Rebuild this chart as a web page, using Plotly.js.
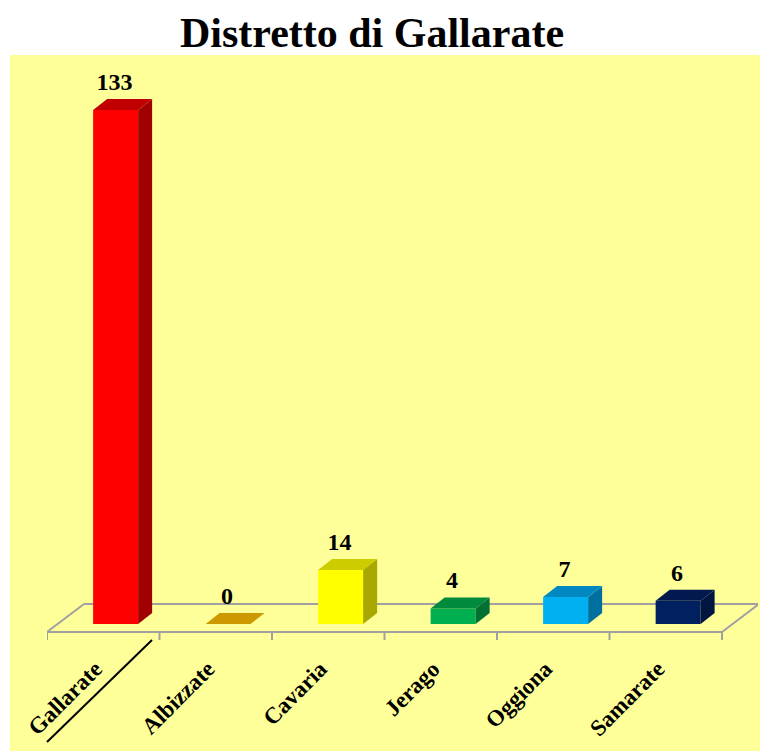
<!DOCTYPE html>
<html><head><meta charset="utf-8">
<script src="https://cdn.plot.ly/plotly-3.0.1.min.js"></script>
<style>html,body{margin:0;padding:0;background:#fff}</style>
</head><body><div id="chart" style="width:760px;height:751px"></div>
<script>
const categories = ['Gallarate','Albizzate','Cavaria','Jerago','Oggiona','Samarate'];
const values = [133, 0, 14, 4, 7, 6];
const frontColors = ['#FF0000','#FFC000','#FFFF00','#00B050','#00B0F0','#002060'];
const topColors   = ['#C00000','#CC9900','#CCCC00','#008A3E','#0088C0','#001A50'];
const sideColors  = ['#A00000','#A07800','#A8A800','#007033','#0070A0','#001540'];

// geometry (style) constants
const PX_X = 112.5, PX_Y = 3.865;
const BAR_OFF = -0.09, BAR_W = 0.40, DX = 14 / PX_X, DY = 11 / PX_Y;
const FLOOR_FRONT = -8 / PX_Y, FLOOR_BACK = 20 / PX_Y, FLOOR_SHIFT = 37 / PX_X, TICK_LEN = 8 / PX_Y;
const LABEL_SHIFT = -0.07;
const serif = 'Liberation Serif, Times New Roman, serif';

const xs = categories.map((c, i) => i);
const traces = [];
traces.push({type: 'bar', x: xs, y: values, offset: BAR_OFF, width: BAR_W,
  marker: {color: frontColors, line: {width: 0}}, hoverinfo: 'skip'});
values.forEach((v, i) => {
  const l = i + BAR_OFF, r = l + BAR_W;
  if (v > 0) traces.push({type: 'scatter', mode: 'lines', x: [r, r + DX, r + DX, r, r], y: [0, DY, v + DY, v, 0],
    fill: 'toself', fillcolor: sideColors[i], line: {width: 0, color: sideColors[i]}, hoverinfo: 'skip'});
  traces.push({type: 'scatter', mode: 'lines', x: [l, r, r + DX, l + DX, l], y: [v, v, v + DY, v + DY, v],
    fill: 'toself', fillcolor: topColors[i], line: {width: 0, color: topColors[i]}, hoverinfo: 'skip'});
});
traces.push({type: 'scatter', mode: 'text', x: xs.map(x => x + 0.1), y: values.map(v => v + DY + 3.9),
  text: values.map(String), textposition: 'middle center',
  textfont: {family: serif, size: 24, color: '#000', weight: 'bold'}, hoverinfo: 'skip'});

const n = categories.length;
const grey = '#A0A0A0';
const shapes = [];
// yellow background
shapes.push({type: 'rect', xref: 'paper', yref: 'paper', x0: -37/711, x1: 713/711, y0: -101/593, y1: 595/593,
  fillcolor: '#FFFF99', line: {width: 0}, layer: 'below'});
// floor
const L = -0.5, R = n - 0.5;
[[L, FLOOR_FRONT, R, FLOOR_FRONT], [L + FLOOR_SHIFT, FLOOR_BACK, R + FLOOR_SHIFT, FLOOR_BACK],
 [L, FLOOR_FRONT, L + FLOOR_SHIFT, FLOOR_BACK], [R, FLOOR_FRONT, R + FLOOR_SHIFT, FLOOR_BACK]].forEach(s => {
  shapes.push({type: 'line', xref: 'x', yref: 'y', x0: s[0], y0: s[1], x1: s[2], y1: s[3],
    line: {color: grey, width: 2}, layer: 'below'});
});
for (let k = 0; k <= n; k++) {
  shapes.push({type: 'line', xref: 'x', yref: 'y', x0: L + k, x1: L + k, y0: FLOOR_FRONT, y1: FLOOR_FRONT - TICK_LEN,
    line: {color: grey, width: 2}, layer: 'below'});
}
// underline stroke beneath first label
shapes.push({type: 'line', xref: 'paper', yref: 'paper', x0: 0, y0: -92/593, x1: 105/711, y1: 10/593,
  line: {color: '#000', width: 2}});

const layout = {
  width: 760, height: 751,
  margin: {l: 47, r: 2, t: 57, b: 101},
  paper_bgcolor: '#FFFFFF', plot_bgcolor: 'rgba(0,0,0,0)',
  showlegend: false,
  title: {text: 'Distretto di Gallarate', x: 372/760, xanchor: 'center', y: 1 - 32/751, yanchor: 'middle',
    font: {family: serif, size: 42, color: '#000', weight: 'bold'}},
  xaxis: {range: [-0.5, -0.5 + 711 / PX_X], tickvals: xs.map(x => x + LABEL_SHIFT), ticktext: categories, tickangle: -45,
    tickfont: {family: serif, size: 23, color: '#000', weight: 'bold'},
    showgrid: false, zeroline: false, showline: false, ticks: '', automargin: false, fixedrange: true},
  yaxis: {range: [-26 / PX_Y, 567 / PX_Y], visible: false, showgrid: false, zeroline: false, automargin: false, fixedrange: true},
  shapes: shapes
};
Plotly.newPlot('chart', traces, layout, {displayModeBar: false, staticPlot: true});
</script></body></html>
